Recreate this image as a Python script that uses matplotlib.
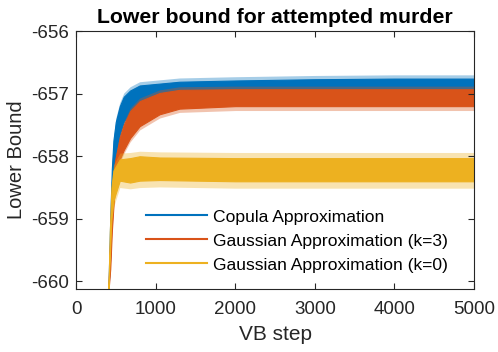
import matplotlib
matplotlib.use("Agg")
import matplotlib.pyplot as plt
from matplotlib.lines import Line2D

plt.rcParams['font.family'] = ['Liberation Sans', 'DejaVu Sans']
plt.rcParams['axes.unicode_minus'] = False

# Copula Approximation: core band and spike band
steps_c = [405, 430, 450, 470, 500, 550, 600, 680, 800, 1050, 1300, 2000, 3000, 4000, 5000]
c_hi = [-660.2, -659.0, -658.2, -657.75, -657.45, -657.2, -657.05, -656.95, -656.87, -656.84, -656.81, -656.79, -656.77, -656.76, -656.76]
c_lo = [-660.2, -659.6, -658.8, -658.3, -658.0, -657.65, -657.45, -657.3, -657.15, -657.05, -657.0, -656.98, -656.97, -656.96, -656.96]
c_hi_spk = [-660.2, -658.93, -658.14, -657.69, -657.39, -657.14, -656.99, -656.89, -656.81, -656.78, -656.75, -656.73, -656.71, -656.7, -656.7]
c_lo_spk = [-660.2, -659.65, -658.85, -658.35, -658.05, -657.7, -657.5, -657.35, -657.2, -657.1, -657.05, -657.03, -657.02, -657.01, -657.01]

# Gaussian Approximation (k=3)
steps_g3 = [405, 430, 450, 470, 490, 550, 600, 680, 800, 1050, 1300, 2000, 3000, 4000, 5000]
g3_hi = [-660.2, -659.3, -658.6, -658.3, -658.08, -657.7, -657.5, -657.28, -657.12, -656.99, -656.94, -656.93, -656.93, -656.93, -656.93]
g3_lo = [-660.2, -659.8, -659.2, -658.8, -658.5, -658.05, -657.9, -657.71, -657.52, -657.33, -657.24, -657.2, -657.2, -657.2, -657.2]
g3_hi_spk = [-660.2, -659.25, -658.55, -658.25, -658.03, -657.65, -657.45, -657.23, -657.07, -656.94, -656.89, -656.88, -656.88, -656.88, -656.88]
g3_lo_spk = [-660.2, -659.86, -659.26, -658.86, -658.56, -658.11, -657.96, -657.77, -657.58, -657.39, -657.3, -657.27, -657.27, -657.27, -657.27]

# Gaussian Approximation (k=0)
steps_g0 = [405, 425, 445, 470, 550, 680, 800, 1050, 2000, 3000, 4000, 5000]
g0_hi = [-660.2, -659.2, -658.5, -658.23, -658.05, -658.03, -658.0, -658.02, -658.03, -658.03, -658.03, -658.03]
g0_lo = [-660.2, -659.6, -659.0, -658.71, -658.39, -658.42, -658.39, -658.38, -658.4, -658.4, -658.4, -658.4]
g0_hi_spk = [-660.2, -659.12, -658.42, -658.14, -657.95, -657.94, -657.92, -657.93, -657.94, -657.94, -657.94, -657.94]
g0_lo_spk = [-660.2, -659.7, -659.1, -658.82, -658.5, -658.52, -658.5, -658.49, -658.51, -658.51, -658.51, -658.51]

labels = ['Copula Approximation', 'Gaussian Approximation (k=3)', 'Gaussian Approximation (k=0)']
colors = ['#0072BD', '#D95319', '#EDB120']

x_ticks = [0, 1000, 2000, 3000, 4000, 5000]
y_ticks = [-660, -659, -658, -657, -656]

fig = plt.figure(figsize=(4.98, 3.52), dpi=100)
ax = fig.add_axes([76/498, 63/352, 398/498, 258/352])

series = [
    (steps_c, c_lo, c_hi, c_lo_spk, c_hi_spk),
    (steps_g3, g3_lo, g3_hi, g3_lo_spk, g3_hi_spk),
    (steps_g0, g0_lo, g0_hi, g0_lo_spk, g0_hi_spk),
]
for (st, lo, hi, los, his), col in zip(series, colors):
    ax.fill_between(st, los, his, color=col, alpha=0.35, linewidth=0)
    ax.fill_between(st, lo, hi, color=col, alpha=1.0, linewidth=0.8, edgecolor=col)

ax.set_xlim(0, 5000)
ax.set_ylim(-660.12, -656)
ax.set_xticks(x_ticks)
ax.set_yticks(y_ticks)
ax.tick_params(direction='in', top=True, right=True, labelsize=13.5, colors='#262626', length=4, width=0.8)
ax.tick_params(axis='x', pad=9)
ax.tick_params(axis='y', pad=5)
for s in ax.spines.values():
    s.set_color('#262626')
    s.set_linewidth(0.8)

ax.set_xlabel('VB step', fontsize=15, color='#262626', labelpad=5)
ax.set_ylabel('Lower Bound', fontsize=14.5, color='#262626')
ax.set_title('Lower bound for attempted murder', fontsize=15.3, fontweight='bold', color='black', pad=6)

handles = [Line2D([0], [0], color=c, lw=1.5) for c in colors]
ax.legend(handles, labels, loc='upper left', bbox_to_anchor=(0.136, 0.37), frameon=False,
          fontsize=12.6, handlelength=3.5, handletextpad=0.35, labelspacing=0.5, borderpad=0.4)

fig.savefig('out.png', dpi=100)
